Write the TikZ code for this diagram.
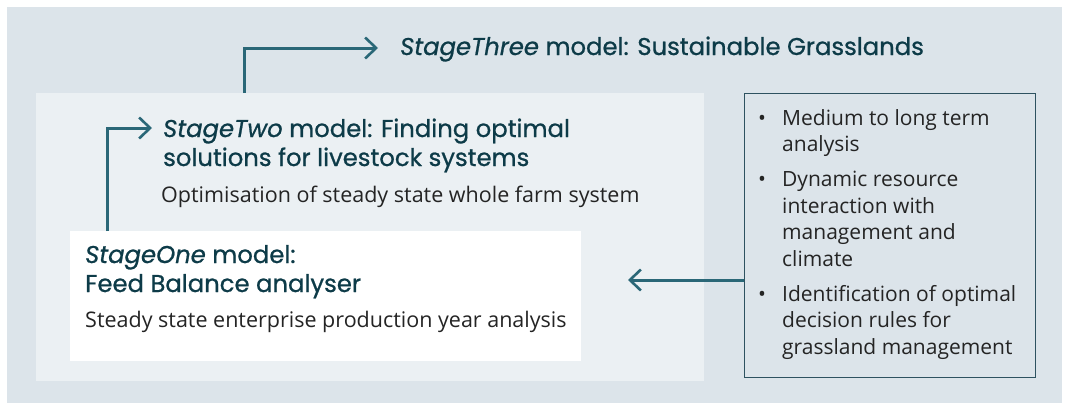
\documentclass[tikz,border=0pt]{standalone}
\usepackage{fontspec}
\setmainfont{Open Sans}
\newfontfamily\headfont{Poppins}[FakeBold=0.8]
\usetikzlibrary{arrows.meta,positioning}
\definecolor{bgblue}{HTML}{DCE4EA}
\definecolor{panelgrey}{HTML}{EBF0F3}
\definecolor{tealline}{HTML}{2A6777}
\definecolor{headteal}{HTML}{0D3B48}
\definecolor{bodytext}{HTML}{242424}
\definecolor{boxline}{HTML}{2E5260}

\begin{document}
\begin{tikzpicture}[x=1pt,y=-1pt,
  panel/.style={rectangle,inner sep=0pt,anchor=north west},
  headtxt/.style={anchor=base west,inner sep=0pt,align=left,font=\headfont\fontsize{24.3}{29}\selectfont,text=headteal},
  bodytxt/.style={anchor=base west,inner sep=0pt,font=\fontsize{21.5}{26.7}\selectfont,text=bodytext},
  arr/.style={-{Straight Barb[length=11pt,width=21pt,line width=2.6pt]},line width=3pt,tealline}
]
  \useasboundingbox (0,0) rectangle (1069,410);
  \fill[bgblue] (7,7) rectangle (1062,403);

  % Model panels
  \node[panel,fill=panelgrey,minimum width=668pt,minimum height=288pt] (two) at (36,93) {};
  \node[panel,fill=white,minimum width=511pt,minimum height=130pt] (one) at (70,231) {};
  \node[panel,draw=boxline,line width=1.2pt,minimum width=291pt,minimum height=284pt] (notes) at (744,93) {};

  % Headings and descriptions (base = last line)
  \node[headtxt] (threehead) at (400,55) {\textit{StageThree} model: Sustainable Grasslands};
  \node[headtxt] (twohead) at (163,166) {\textit{StageTwo} model: Finding optimal\\solutions for livestock systems};
  \node[bodytxt] (twotxt) at (161,202) {Optimisation of steady state whole farm system};
  \node[headtxt] (onehead) at (85,292) {\textit{StageOne} model:\\Feed Balance analyser};
  \node[bodytxt] (onetxt) at (85,327) {Steady state enterprise production year analysis};

  % Bullet list
  \node[bodytxt,font=\fontsize{21}{26.7}\selectfont] (notelist) at (758,125) {%
    \begin{tabular}[t]{@{}p{24pt}@{}l@{}}
      • & Medium to long term\\
        & analysis\\[8pt]
      • & Dynamic  resource\\
        & interaction with\\
        & management and\\
        & climate\\[8pt]
      • & Identification of optimal\\
        & decision rules for\\
        & grassland management
    \end{tabular}};

  % Connectors
  \coordinate (bend3) at (244,48);
  \coordinate (tip3) at (378,48);
  \coordinate (bend2) at (107,128);
  \coordinate (tip2) at (152,128);
  \coordinate (tip1) at (628,280);
  \draw[arr] (two.north -| bend3) -- (bend3) -- (tip3);
  \draw[arr] (one.north -| bend2) -- (bend2) -- (tip2);
  \draw[arr] (tip1 -| notes.west) -- (tip1);
\end{tikzpicture}
\end{document}
